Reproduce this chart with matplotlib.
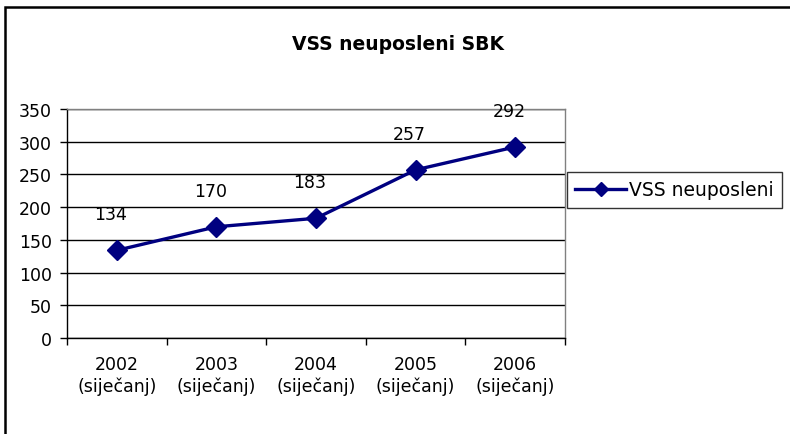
import matplotlib
matplotlib.use("Agg")
import matplotlib.pyplot as plt
from matplotlib.patches import Rectangle
from matplotlib.lines import Line2D

categories = ["2002\n(siječanj)", "2003\n(siječanj)", "2004\n(siječanj)",
              "2005\n(siječanj)", "2006\n(siječanj)"]
values = [134, 170, 183, 257, 292]
series_name = "VSS neuposleni"
title = "VSS neuposleni SBK"
yticks = [0, 50, 100, 150, 200, 250, 300, 350]

plt.rcParams['font.family'] = ['DejaVu Sans']
W, H = 790, 435
fig = plt.figure(figsize=(W / 100, H / 100), dpi=100)
fig.patch.set_facecolor('white')

# outer chart border (left and top visible)
fig.add_artist(Rectangle((5 / W, -0.1), 1.2, 1 - 8 / H + 0.1, transform=fig.transFigure,
                         fill=False, edgecolor='black', linewidth=1.8))

ax = fig.add_axes([67 / W, 1 - 339 / H, (565 - 67) / W, (339 - 110) / H])
navy = '#000080'
x = list(range(len(values)))
ax.plot(x, values, color=navy, linewidth=2.4, marker='D', markersize=10.5,
        markerfacecolor=navy, markeredgecolor=navy, zorder=3)
for xi, v in zip(x, values):
    ax.annotate(str(v), (xi, v), xytext=(-6, 36), textcoords='offset pixels',
                ha='center', va='center', fontsize=12.5, color='black')

ax.set_xlim(-0.5, len(values) - 0.5)
ax.set_ylim(0, 350)
ax.set_yticks(yticks)
ax.set_yticklabels([str(t) for t in yticks], fontsize=12.5)
ax.yaxis.grid(True, color='black', linewidth=1)
ax.set_axisbelow(True)

ax.set_xticks(x)
ax.set_xticklabels(categories, fontsize=12.5, linespacing=1.25)
ax.set_xticks([i - 0.5 for i in range(len(values) + 1)], minor=True)
ax.tick_params(axis='x', which='major', length=0, pad=12)
ax.tick_params(axis='x', which='minor', length=5, width=1, direction='out')
ax.tick_params(axis='y', length=5, width=1, direction='out', pad=6)

ax.spines['left'].set_color('black')
ax.spines['bottom'].set_color('black')
ax.spines['top'].set_color('#808080')
ax.spines['right'].set_color('#808080')
for s in ax.spines.values():
    s.set_linewidth(1)

fig.text(398 / W, 1 - 45 / H, title, ha='center', va='center',
         fontsize=13.5, fontweight='bold')

handle = Line2D([], [], color=navy, linewidth=2.4, marker='D', markersize=7,
                markerfacecolor=navy, markeredgecolor=navy)
leg = fig.legend([handle], [series_name], loc='center left',
                 bbox_to_anchor=(567 / W, 1 - 191 / H), fontsize=13.5,
                 frameon=True, fancybox=False, edgecolor='black',
                 handlelength=2.7, handletextpad=0.15, borderpad=0.45,
                 borderaxespad=0)
leg.get_frame().set_linewidth(1)

fig.savefig("out.png", dpi=100, facecolor='white')
